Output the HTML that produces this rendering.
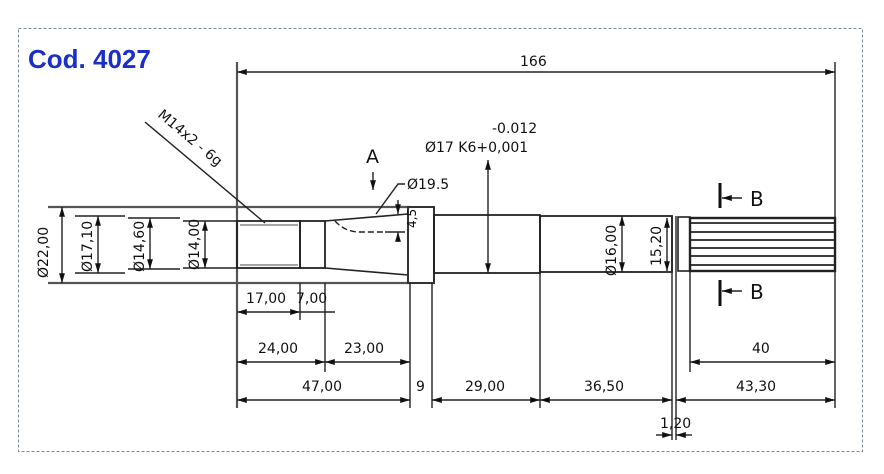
<!DOCTYPE html>
<html><head><meta charset="utf-8"><style>
html,body{margin:0;padding:0;background:#fff;}
svg{display:block;}
text{font-family:"DejaVu Sans","Liberation Sans",sans-serif;font-size:14px;fill:#111;}
</style></head><body>
<svg width="884" height="474" viewBox="0 0 884 474" xmlns="http://www.w3.org/2000/svg">
<defs>
<marker id="a" viewBox="0 0 10 10" refX="10" refY="5" markerWidth="7" markerHeight="7" orient="auto-start-reverse"><path d="M0,2 L10,5 L0,8 z" fill="#111"/></marker>
</defs>
<rect x="18.5" y="28.5" width="844" height="423" fill="none" stroke="#7a8a9a" stroke-dasharray="3,2"/>
<text x="28" y="68" style="font-family:'Liberation Sans',sans-serif;font-size:26px;font-weight:bold;fill:#1a2fc8">Cod. 4027</text>

<g stroke="#222" stroke-width="1.4" fill="none">
<line x1="237" y1="62" x2="237" y2="408" stroke="#555" stroke-width="2.2"/>
<line x1="835" y1="62" x2="835" y2="408"/>
<line x1="48" y1="207" x2="410" y2="207" stroke="#555" stroke-width="2.2"/>
<line x1="48" y1="283" x2="410" y2="283" stroke="#555" stroke-width="2.2"/>
<line x1="75" y1="216" x2="125" y2="216"/><line x1="75" y1="273" x2="125" y2="273"/>
<line x1="128" y1="218" x2="180" y2="218"/><line x1="128" y1="269" x2="180" y2="269"/>
<line x1="183" y1="221" x2="237" y2="221"/><line x1="183" y1="268" x2="237" y2="268"/>
<rect x="237" y="221" width="63" height="47" stroke-width="1.8"/>
<line x1="240" y1="225" x2="298" y2="225" stroke="#888"/>
<line x1="240" y1="265" x2="298" y2="265" stroke="#888"/>
<rect x="300" y="221" width="25" height="47" stroke-width="1.8"/>
<path d="M325 221 L408 214 M325 268 L408 275" stroke-width="1.6"/>
<path d="M335 221 Q345 232 360 232 L385 232" stroke-dasharray="6,3"/>
<rect x="408" y="207" width="26" height="76" stroke="#333" stroke-width="2"/>
<rect x="434" y="215" width="106" height="58" stroke-width="1.8"/>
<rect x="540" y="216" width="132" height="56" stroke-width="1.8"/>
<line x1="672" y1="216" x2="672" y2="440"/><line x1="676" y1="216" x2="676" y2="440"/>
<rect x="678" y="217" width="12" height="54" stroke-width="1.6"/>
<rect x="690" y="218" width="145" height="53" stroke-width="2.4"/>
<g stroke-width="1.8">
<line x1="690" y1="223" x2="835" y2="223"/><line x1="690" y1="232" x2="835" y2="232"/>
<line x1="690" y1="240" x2="835" y2="240"/><line x1="690" y1="248" x2="835" y2="248"/>
<line x1="690" y1="256" x2="835" y2="256"/><line x1="690" y1="265" x2="835" y2="265"/>
</g>
<line x1="300" y1="283" x2="300" y2="320"/>
<line x1="325" y1="283" x2="325" y2="372"/>
<line x1="410" y1="283" x2="410" y2="408"/>
<line x1="432" y1="283" x2="432" y2="408"/>
<line x1="540" y1="273" x2="540" y2="408"/>
<line x1="690" y1="271" x2="690" y2="372"/>
<line x1="720" y1="183" x2="720" y2="208" stroke="#111" stroke-width="3"/>
<line x1="720" y1="280" x2="720" y2="306" stroke="#111" stroke-width="3"/>
<line x1="722" y1="198" x2="742" y2="198" marker-start="url(#a)"/>
<line x1="722" y1="291" x2="742" y2="291" marker-start="url(#a)"/>
<line x1="237" y1="72" x2="835" y2="72" marker-start="url(#a)" marker-end="url(#a)"/>
<line x1="62" y1="207" x2="62" y2="283" marker-start="url(#a)" marker-end="url(#a)"/>
<line x1="98" y1="216" x2="98" y2="273" marker-start="url(#a)" marker-end="url(#a)"/>
<line x1="150" y1="218" x2="150" y2="269" marker-start="url(#a)" marker-end="url(#a)"/>
<line x1="205" y1="221" x2="205" y2="268" marker-start="url(#a)" marker-end="url(#a)"/>
<line x1="622" y1="216" x2="622" y2="272" marker-start="url(#a)" marker-end="url(#a)"/>
<line x1="667" y1="218" x2="667" y2="271" marker-start="url(#a)" marker-end="url(#a)"/>
<line x1="488" y1="160" x2="488" y2="273" marker-start="url(#a)" marker-end="url(#a)"/>
<line x1="237" y1="312" x2="300" y2="312" marker-start="url(#a)" marker-end="url(#a)"/>
<line x1="300" y1="312" x2="335" y2="312"/>
<line x1="237" y1="362" x2="325" y2="362" marker-start="url(#a)" marker-end="url(#a)"/>
<line x1="325" y1="362" x2="410" y2="362" marker-start="url(#a)" marker-end="url(#a)"/>
<line x1="690" y1="362" x2="835" y2="362" marker-start="url(#a)" marker-end="url(#a)"/>
<line x1="237" y1="400" x2="410" y2="400" marker-start="url(#a)" marker-end="url(#a)"/>
<line x1="432" y1="400" x2="540" y2="400" marker-start="url(#a)" marker-end="url(#a)"/>
<line x1="540" y1="400" x2="672" y2="400" marker-start="url(#a)" marker-end="url(#a)"/>
<line x1="676" y1="400" x2="835" y2="400" marker-start="url(#a)" marker-end="url(#a)"/>
<line x1="656" y1="435" x2="672" y2="435" marker-end="url(#a)"/>
<line x1="692" y1="435" x2="676" y2="435" marker-end="url(#a)"/>
<line x1="373" y1="172" x2="373" y2="190" marker-end="url(#a)"/>
<path d="M405 184 L398 184 L376 214"/>
<line x1="145" y1="122" x2="265" y2="223"/>
<line x1="398" y1="200" x2="398" y2="214" marker-end="url(#a)"/>
<line x1="398" y1="242" x2="398" y2="232" marker-end="url(#a)"/>
<line x1="385" y1="232" x2="405" y2="232"/>
</g>

<text x="520" y="66">166</text>
<text x="492" y="133">-0.012</text>
<text x="425" y="152">Ø17 K6+0,001</text>
<text x="366" y="163" style="font-size:19px">A</text>
<text x="407" y="189">Ø19.5</text>
<text x="750" y="206" style="font-size:20px">B</text>
<text x="750" y="299" style="font-size:20px">B</text>
<text transform="translate(157,116) rotate(40)">M14x2 - 6g</text>
<text transform="translate(48,278) rotate(-90)">Ø22,00</text>
<text transform="translate(92,272) rotate(-90)">Ø17,10</text>
<text transform="translate(144,272) rotate(-90)">Ø14,60</text>
<text transform="translate(199,270) rotate(-90)">Ø14,00</text>
<text transform="translate(616,276) rotate(-90)">Ø16,00</text>
<text transform="translate(661,266) rotate(-90)">15,20</text>
<text transform="translate(416,228) rotate(-90)" style="font-size:12px">4,5</text>
<text x="246" y="303">17,00</text>
<text x="296" y="303">7,00</text>
<text x="258" y="353">24,00</text>
<text x="344" y="353">23,00</text>
<text x="752" y="353">40</text>
<text x="302" y="391">47,00</text>
<text x="416" y="391">9</text>
<text x="465" y="391">29,00</text>
<text x="584" y="391">36,50</text>
<text x="736" y="391">43,30</text>
<text x="660" y="428">1,20</text>
</svg>
</body></html>
